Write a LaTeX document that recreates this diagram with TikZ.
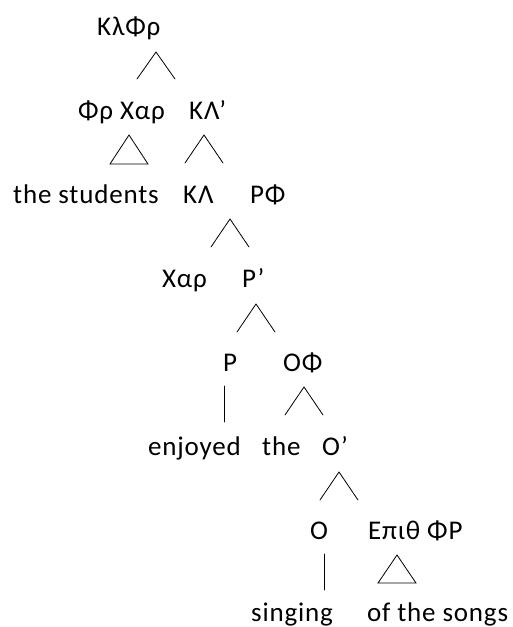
\documentclass[tikz,border=0pt]{standalone}
\usepackage{fontspec}
\setmainfont{Carlito}[LetterSpace=3]
\usetikzlibrary{positioning}
\tikzset{
    every node/.style={inner sep=0pt, anchor=base west}, % nodes sit on their baseline
    branch/.style={line width=0.8pt, line cap=round}, % the tree lines
}

\begin{document}
\begin{tikzpicture}[
                    x=1pt, y=-1pt,
                    word/.style={font=\fontsize{27}{32}\selectfont},
                ]
                \useasboundingbox (0,0) rectangle (513,627);
                % labels, row by row
                \node[word] (klfr) at (97,35) {ΚλΦρ};
                \node[word] (frxar) at (78,119) {Φρ Χαρ};
                \node[word] (klbar) at (189,119) {ΚΛ’};
                \node[word] (students) at (13,203) {the students};
                \node[word] (kl) at (183,203) {ΚΛ};
                \node[word] (rf) at (250,203) {ΡΦ};
                \node[word] (xar) at (162,287) {Χαρ};
                \node[word] (rbar) at (242,287) {Ρ’};
                \node[word] (r) at (223,371) {Ρ};
                \node[word] (of) at (283,371) {ΟΦ};
                \node[word] (enjoyed) at (148,455) {enjoyed};
                \node[word] (the) at (262,455) {the};
                \node[word] (obar) at (322,455) {Ο’};
                \node[word] (o) at (310,539) {Ο};
                \node[word] (epfr) at (368,539) {Επιθ ΦΡ};
                \node[word] (singing) at (251,621) {singing};
                \node[word] (songs) at (367,621) {of the songs};
                % tops of the branches
                \coordinate (klfr-br) at (156,52);
                \coordinate (frxar-tri) at (129,135);
                \coordinate (klbar-br) at (204,135);
                \coordinate (rf-br) at (230,219);
                \coordinate (rbar-br) at (256,304);
                \coordinate (r-v) at (224,386);
                \coordinate (of-br) at (304,387);
                \coordinate (obar-br) at (339,472);
                \coordinate (o-v) at (324,554);
                \coordinate (epfr-tri) at (397,555);
                % branches
                \draw[branch] (klfr-br) ++(-19,27) -- (klfr-br) -- ++(19,27);
                \draw[branch] (klbar-br) ++(-19,28) -- (klbar-br) -- ++(19,28);
                \draw[branch] (rf-br) ++(-19,28) -- (rf-br) -- ++(19,28);
                \draw[branch] (rbar-br) ++(-19,28) -- (rbar-br) -- ++(19,28);
                \draw[branch] (of-br) ++(-19,28) -- (of-br) -- ++(19,28);
                \draw[branch] (obar-br) ++(-19,28) -- (obar-br) -- ++(19,28);
                \draw[branch] (frxar-tri) -- ++(19,29) -- ++(-38,0) -- cycle;
                \draw[branch] (epfr-tri) -- ++(19,28) -- ++(-38,0) -- cycle;
                \draw[branch] (r-v) -- ++(0,36);
                \draw[branch] (o-v) -- ++(0,36);
            \end{tikzpicture}
\end{document}
